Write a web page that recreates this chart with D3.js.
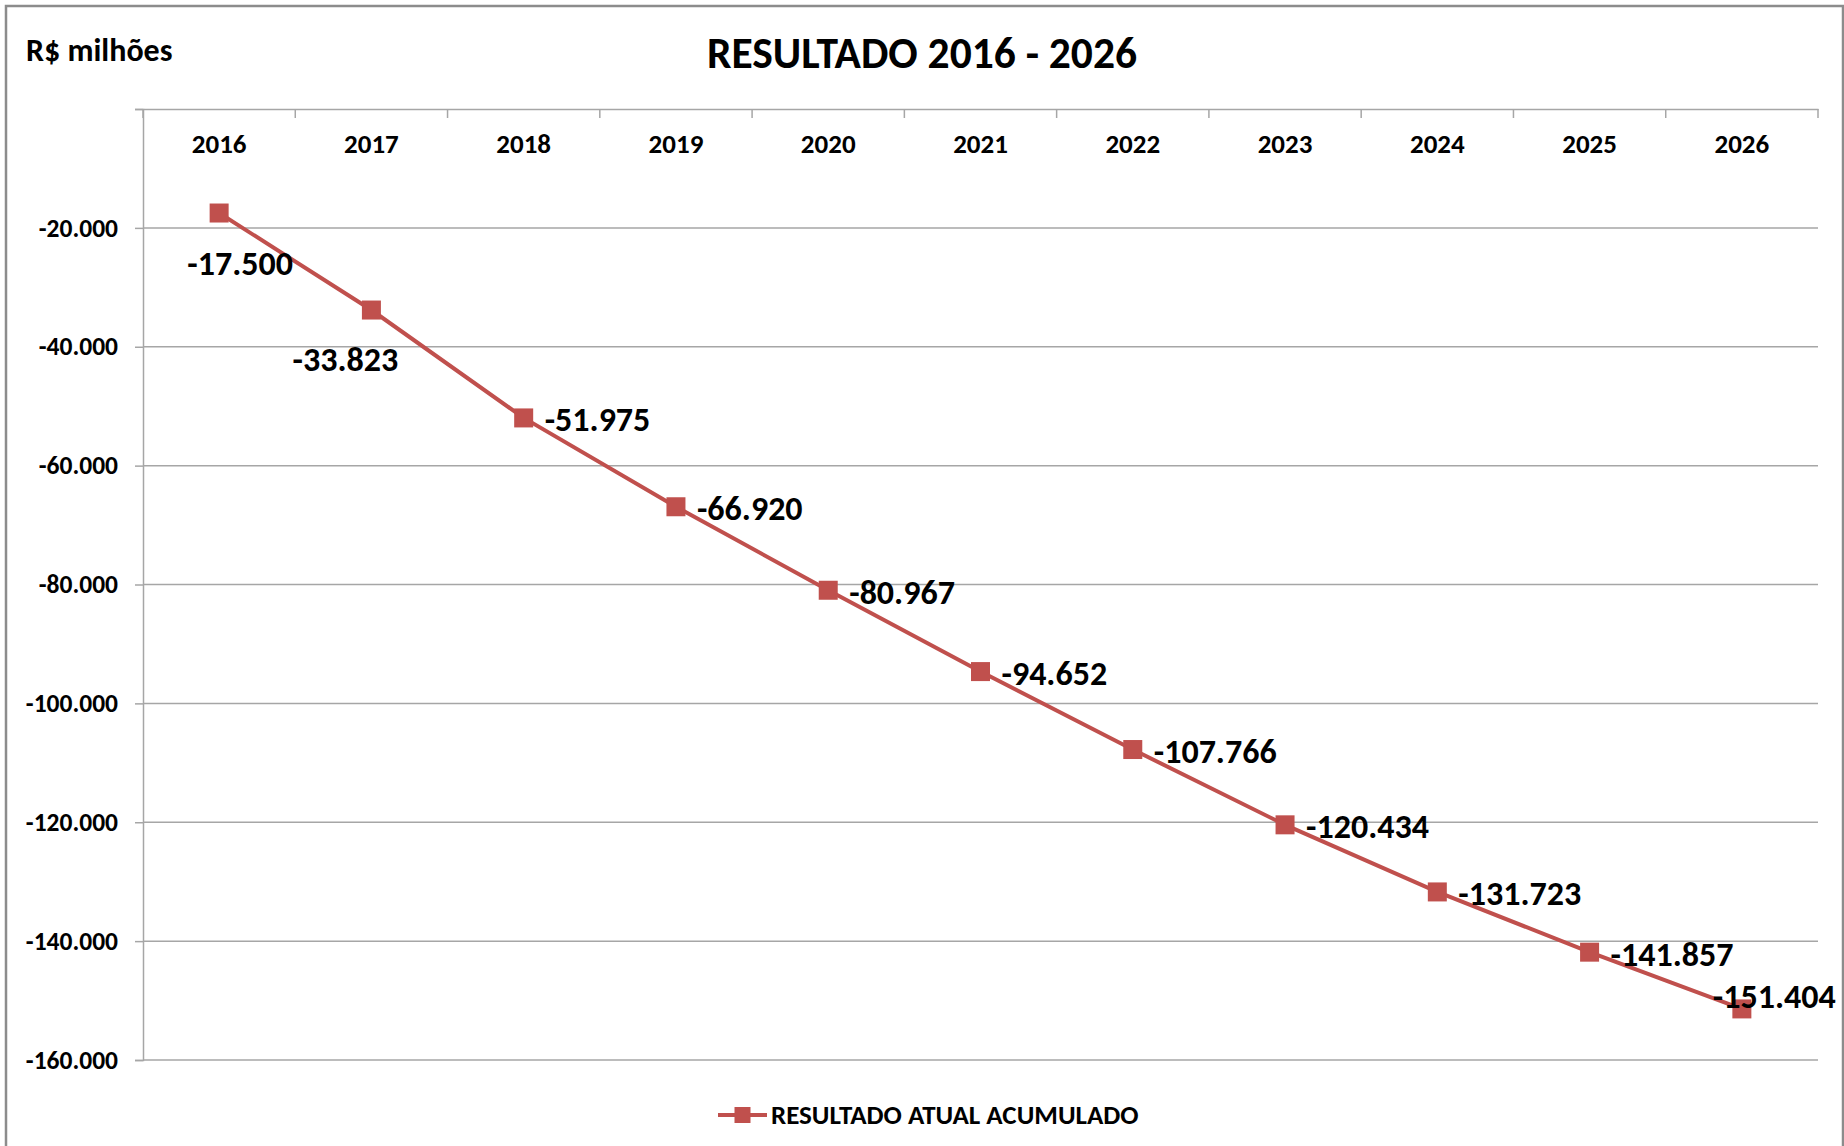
<!DOCTYPE html>
<html>
<head>
<meta charset="utf-8">
<script src="https://cdn.jsdelivr.net/npm/d3@7"></script>
<style>
  html, body { margin: 0; padding: 0; background: #fff; }
  svg { display: block; }
  text { font-family: Carlito, Calibri, "Liberation Sans", Arial, sans-serif; fill: #000; }
</style>
</head>
<body>
<svg id="chart" width="1844" height="1146"></svg>
<script>
// ---- data ----
const years = ["2016","2017","2018","2019","2020","2021","2022","2023","2024","2025","2026"];
const values = [-17500, -33823, -51975, -66920, -80967, -94652, -107766, -120434, -131723, -141857, -151404];
const yTickValues = [0, -20000, -40000, -60000, -80000, -100000, -120000, -140000, -160000];
const seriesName = "RESULTADO ATUAL ACUMULADO";
const titleText = "RESULTADO 2016 - 2026";
const unitText = "R$ milhões";

// ---- layout ----
const W = 1844, H = 1146;
const plot = { left: 143, right: 1818, top: 109, bottom: 1060 };
const lineColor = "#C0504D";
const gridColor = "#A6A6A6";
const FONT = "Carlito, Calibri, 'Liberation Sans', Arial, sans-serif";

const svg = d3.select("#chart");

const locale = d3.formatLocale({ decimal: ",", thousands: ".", grouping: [3], currency: ["R$ ", ""], minus: "-" });
const fmt = locale.format(",.0f");

const x = d3.scaleBand().domain(years).range([plot.left, plot.right]).padding(0);
const y = d3.scaleLinear().domain([-160000, 0]).range([plot.bottom, plot.top]);

// outer border
svg.append("rect")
  .attr("x", 6).attr("y", 6).attr("width", W - 7).attr("height", H)
  .attr("fill", "#fff").attr("stroke", "#8C8C8C").attr("stroke-width", 2.5);

// gridlines
svg.append("g").selectAll("line")
  .data(yTickValues.filter(d => d !== 0))
  .join("line")
  .attr("x1", plot.left).attr("x2", plot.right)
  .attr("y1", d => y(d)).attr("y2", d => y(d))
  .attr("stroke", gridColor).attr("stroke-width", 1.5);

// y axis
const yAxis = svg.append("g")
  .attr("transform", `translate(${plot.left},0)`)
  .call(d3.axisLeft(y).tickValues(yTickValues).tickSize(8).tickPadding(17)
    .tickFormat(d => d === 0 ? "" : fmt(d)));
yAxis.select(".domain").attr("stroke", gridColor).attr("stroke-width", 1.5);
yAxis.selectAll(".tick line").attr("stroke", gridColor).attr("stroke-width", 1.5);
yAxis.selectAll(".tick text")
  .style("font-family", FONT)
  .style("font-size", "25.5px").style("font-weight", "bold").style("fill", "#000");

// top category axis (labels at band centers, no ticks)
const xAxis = svg.append("g")
  .attr("transform", `translate(0,${plot.top})`)
  .call(d3.axisTop(x).tickSize(0).tickPadding(-44));
xAxis.select(".domain").attr("stroke", gridColor).attr("stroke-width", 1.5);
xAxis.selectAll(".tick text")
  .style("font-family", FONT)
  .style("font-size", "27px").style("font-weight", "bold").style("fill", "#000");

// boundary tick marks of the category axis (pointing down)
const boundaries = years.map(d => x(d)).concat([x(years[years.length - 1]) + x.bandwidth()]);
svg.append("g").selectAll("line")
  .data(boundaries)
  .join("line")
  .attr("x1", d => d).attr("x2", d => d)
  .attr("y1", plot.top).attr("y2", plot.top + 9)
  .attr("stroke", gridColor).attr("stroke-width", 1.5);

// series line
const pts = years.map((yr, i) => ({ yr, v: values[i], px: x(yr) + x.bandwidth() / 2, py: y(values[i]) }));
svg.append("path")
  .datum(pts)
  .attr("fill", "none").attr("stroke", lineColor).attr("stroke-width", 4)
  .attr("d", d3.line().x(d => d.px).y(d => d.py));

// markers
const ms = 19;
svg.append("g").selectAll("rect")
  .data(pts)
  .join("rect")
  .attr("x", d => d.px - ms / 2).attr("y", d => d.py - ms / 2)
  .attr("width", ms).attr("height", ms)
  .attr("fill", lineColor);

// data labels
function labelPlacement(i, n) {
  if (i === 0) return { dx: 21, dy: 50, anchor: "middle" };
  if (i === 1) return { dx: -26, dy: 49, anchor: "middle" };
  if (i === n - 1) return { dx: -29, dy: -12, anchor: "start" };
  return { dx: 21, dy: 2, anchor: "start" };
}
svg.append("g").selectAll("text")
  .data(pts)
  .join("text")
  .each(function (d, i) {
    const p = labelPlacement(i, pts.length);
    d3.select(this)
      .attr("x", d.px + p.dx).attr("y", d.py + p.dy)
      .attr("dy", "0.34em")
      .attr("text-anchor", p.anchor);
  })
  .style("font-size", "34px").style("font-weight", "bold")
  .text(d => fmt(d.v));

// title
svg.append("text")
  .attr("x", W / 2).attr("y", 68)
  .attr("text-anchor", "middle")
  .style("font-size", "43.5px").style("font-weight", "bold")
  .text(titleText);

// unit label
svg.append("text")
  .attr("x", 26).attr("y", 61)
  .style("font-size", "32px").style("font-weight", "bold")
  .text(unitText);

// legend
const lg = svg.append("g").attr("transform", "translate(718,1115)");
lg.append("line").attr("x1", 0).attr("x2", 49).attr("y1", 0).attr("y2", 0)
  .attr("stroke", lineColor).attr("stroke-width", 4);
lg.append("rect").attr("x", 24.5 - 8).attr("y", -8).attr("width", 16).attr("height", 16).attr("fill", lineColor);
lg.append("text").attr("x", 53).attr("y", 0).attr("dy", "0.34em")
  .style("font-size", "27px").style("font-weight", "bold")
  .text(seriesName);
</script>
</body>
</html>
